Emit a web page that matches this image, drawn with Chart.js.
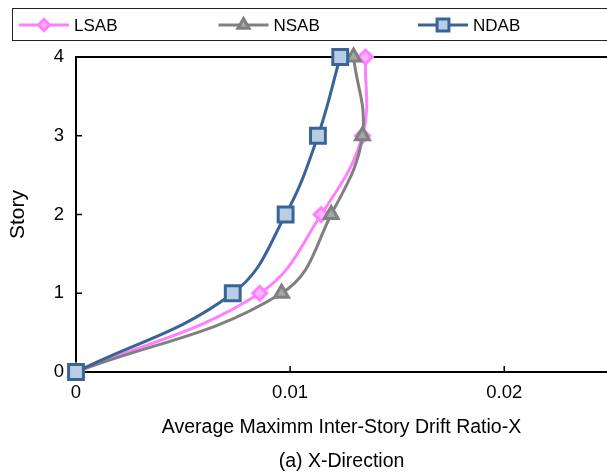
<!DOCTYPE html>
<html>
<head>
<meta charset="utf-8">
<script src="https://cdn.jsdelivr.net/npm/chart.js@4/dist/chart.umd.min.js"></script>
<style>
  html, body { margin: 0; padding: 0; background: #fff; overflow: hidden; }
  #wrap { width: 607px; height: 474px; }
  canvas { display: block; }
</style>
</head>
<body>
<div id="wrap"><canvas id="driftChart" width="607" height="474"></canvas></div>
<script>
// Story levels and drift ratios
const stories = [0, 1, 2, 3, 4];
const lsab = [0, 0.00858, 0.01145, 0.01338, 0.01352];
const nsab = [0, 0.0096, 0.01192, 0.01338, 0.01296];
const ndab = [0, 0.00732, 0.00979, 0.0113, 0.01234];

const xTicks = [0, 0.01, 0.02];
const yTicks = [0, 1, 2, 3, 4];

const FONT = "'Liberation Sans', Arial, sans-serif";

const toPoints = vals => vals.map((v, i) => ({ x: v, y: stories[i] }));

// legend in a box at the top, line through the marker like Excel
const boxLegend = {
  id: "boxLegend",
  afterDraw(chart) {
    const ctx = chart.ctx;
    ctx.save();
    ctx.strokeStyle = "#222";
    ctx.lineWidth = 1;
    ctx.strokeRect(12.5, 8.5, 610, 32);
    chart.data.datasets.forEach((ds, i) => {
      const x0 = 19 + i * 199.5;
      const y = 25;
      ctx.strokeStyle = ds.borderColor;
      ctx.lineWidth = 3;
      ctx.beginPath();
      ctx.moveTo(x0, y);
      ctx.lineTo(x0 + 50, y);
      ctx.stroke();
      ctx.fillStyle = ds.pointBackgroundColor;
      ctx.strokeStyle = ds.pointBorderColor;
      ctx.lineWidth = ds.pointBorderWidth;
      Chart.helpers.drawPoint(ctx, {
        pointStyle: ds.pointStyle, radius: ds.pointRadius * 0.8,
        borderWidth: ds.pointBorderWidth, rotation: 0
      }, x0 + 25, y);
      ctx.fillStyle = "#000";
      ctx.font = "17px " + FONT;
      ctx.textBaseline = "middle";
      ctx.fillText(ds.label, x0 + 55, y + 1);
    });
    ctx.restore();
  }
};

// top frame line and inward tick marks
const frame = {
  id: "frame",
  beforeDatasetsDraw(chart) {
    const { ctx, chartArea: a, scales } = chart;
    ctx.save();
    ctx.strokeStyle = "#000";
    ctx.lineWidth = 2;
    ctx.beginPath();
    ctx.moveTo(a.left - 1, a.top);
    ctx.lineTo(chart.width, a.top);
    ctx.stroke();
    ctx.lineWidth = 1.5;
    ctx.beginPath();
    scales.x.ticks.forEach(t => {
      const px = scales.x.getPixelForValue(t.value);
      ctx.moveTo(px, a.bottom);
      ctx.lineTo(px, a.bottom - 6);
    });
    scales.y.ticks.forEach(t => {
      const py = scales.y.getPixelForValue(t.value);
      ctx.moveTo(a.left, py);
      ctx.lineTo(a.left + 6, py);
    });
    ctx.stroke();
    ctx.restore();
  }
};

new Chart(document.getElementById("driftChart"), {
  type: "line",
  data: {
    datasets: [{
      label: "LSAB",
      data: toPoints(lsab),
      borderColor: "#ff80ff",
      borderWidth: 3,
      pointStyle: "rectRot",
      pointRadius: 7,
      pointBorderWidth: 3,
      pointBackgroundColor: "#ffb0ff",
      pointBorderColor: "#ff80ff",
      order: 3
    }, {
      label: "NSAB",
      data: toPoints(nsab),
      borderColor: "#808080",
      borderWidth: 3,
      pointStyle: "triangle",
      pointRadius: 8,
      pointBorderWidth: 3,
      pointBackgroundColor: "#a6a6a6",
      pointBorderColor: "#808080",
      order: 2
    }, {
      label: "NDAB",
      data: toPoints(ndab),
      borderColor: "#3b6496",
      borderWidth: 3,
      pointStyle: "rect",
      pointRadius: 10.5,
      pointBorderWidth: 3,
      pointBackgroundColor: "#b9cde5",
      pointBorderColor: "#3b6496",
      order: 1
    }]
  },
  options: {
    responsive: false,
    animation: false,
    layout: { autoPadding: false, padding: { top: 57, right: 0, bottom: 0, left: 0 } },
    elements: { line: { tension: 0.4 } },
    datasets: { line: { clip: false } },
    plugins: {
      legend: { display: false },
      tooltip: { enabled: false }
    },
    scales: {
      x: {
        type: "linear",
        min: 0,
        max: 0.0248,
        afterBuildTicks: s => { s.ticks = xTicks.map(v => ({ value: v })); },
        afterFit: s => { s.height = 102; s.paddingLeft = 0; s.paddingRight = 0; },
        grid: { display: true, drawOnChartArea: false, drawTicks: false },
        border: { display: true, color: "#000", width: 2 },
        ticks: {
          padding: 10,
          color: "#000",
          font: { family: FONT, size: 18.5 },
          callback: v => String(v)
        },
        title: {
          display: true,
          text: ["Average Maximm Inter-Story Drift Ratio-X", "(a) X-Direction"],
          color: "#000",
          font: { family: FONT, size: 19.5, lineHeight: 1.744 },
          padding: { top: 0, bottom: -5 }
        }
      },
      y: {
        type: "linear",
        min: 0,
        max: 4,
        afterBuildTicks: s => { s.ticks = yTicks.map(v => ({ value: v })); },
        afterFit: s => { s.width = 76; },
        grid: { display: true, drawOnChartArea: false, drawTicks: false },
        border: { display: true, color: "#000", width: 2 },
        ticks: {
          padding: 12,
          color: "#000",
          font: { family: FONT, size: 18.5 }
        },
        title: {
          display: true,
          text: "Story",
          color: "#000",
          font: { family: FONT, size: 21 },
          padding: { top: 5.5, bottom: 0 }
        }
      }
    }
  },
  plugins: [frame, boxLegend]
});
</script>
</body>
</html>
